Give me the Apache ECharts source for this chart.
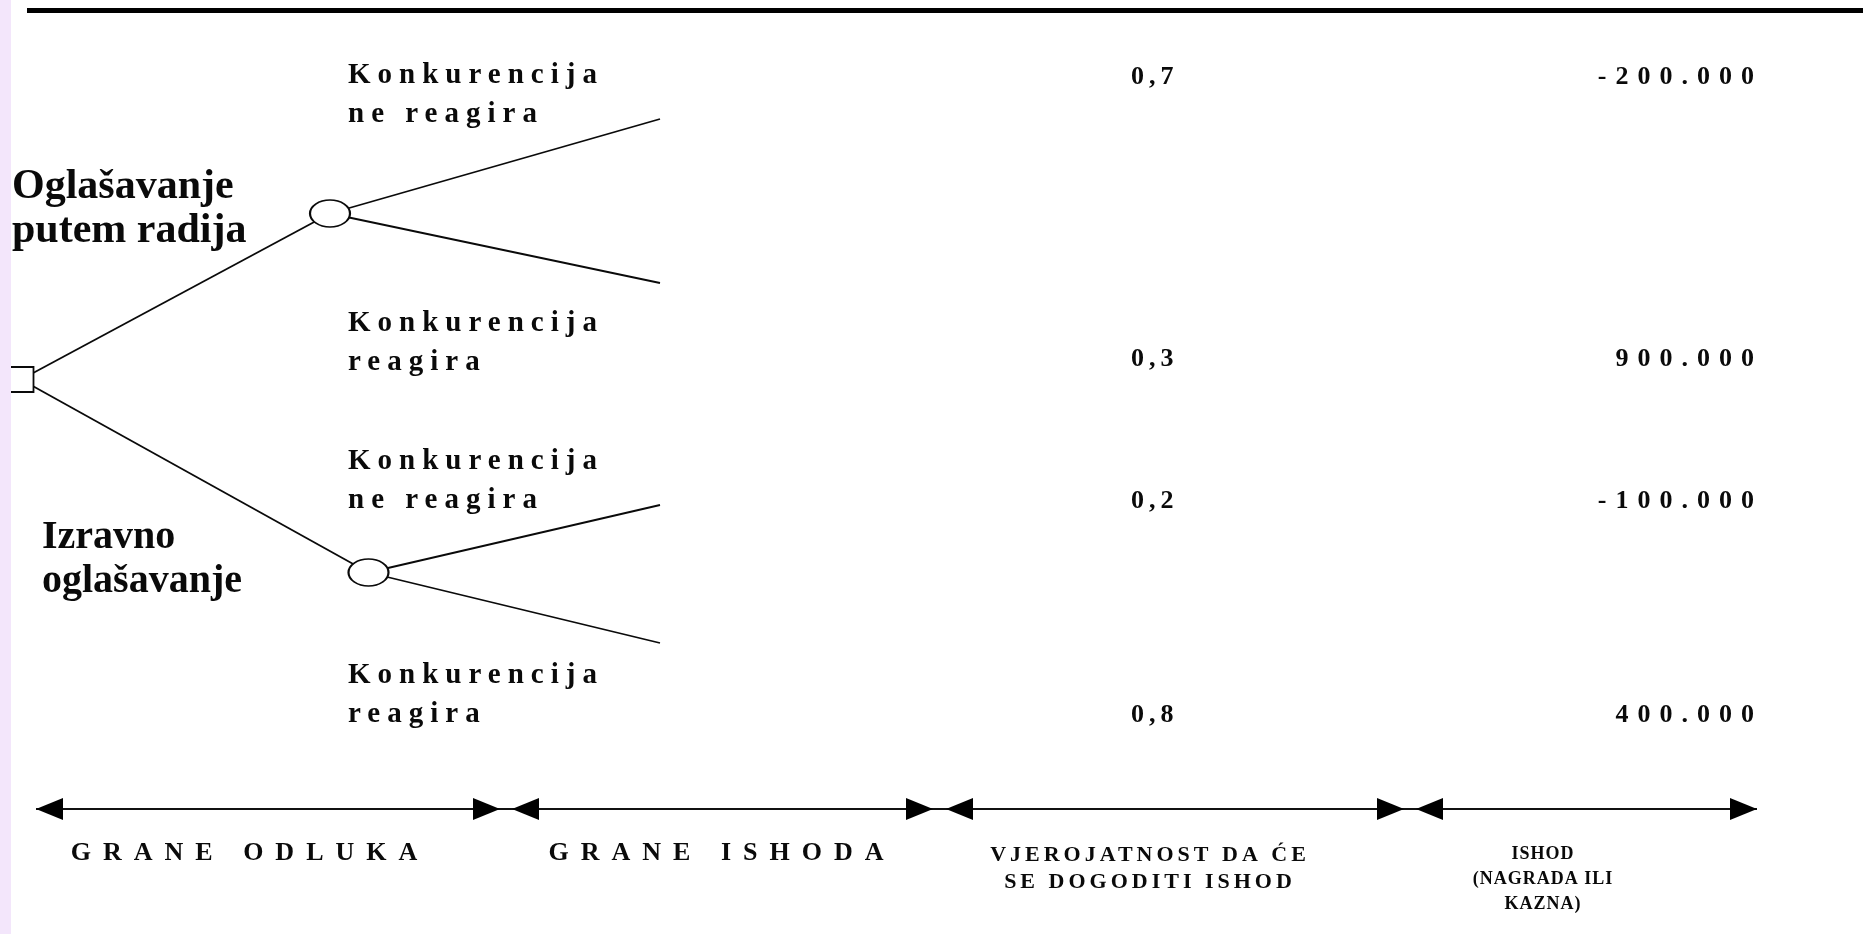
<!DOCTYPE html>
<html>
<head>
<meta charset="utf-8">
<script src="https://cdn.jsdelivr.net/npm/echarts@6/dist/echarts.min.js"></script>
<style>
  html, body { margin: 0; padding: 0; background: #ffffff; overflow: hidden; }
  #chart { width: 1863px; height: 934px; }
</style>
</head>
<body>
<div id="chart"></div>
<script>
// ---------------- DATA ----------------
const decisionLabels = ['Oglašavanje\nputem radija', 'Izravno\noglašavanje'];
const outcomeLabels = [
  'Konkurencija\nne reagira',
  'Konkurencija\nreagira',
  'Konkurencija\nne reagira',
  'Konkurencija\nreagira'
];
const outcomeParent = [0, 0, 1, 1];
const probabilities = [0.7, 0.3, 0.2, 0.8];
const payoffs = [-200000, 900000, -100000, 400000];
const stageLabels = [
  'GRANE ODLUKA',
  'GRANE ISHODA',
  'VJEROJATNOST DA ĆE\nSE DOGODITI ISHOD',
  'ISHOD\n(NAGRADA ILI\nKAZNA)'
];

// ---------------- LAYOUT (diagram frame, px units on hidden axes) ----------------
const FRAME_W = 1863, FRAME_H = 934;
const rootPos = [21, 379.5];
const chancePos = [[330, 213.5], [368.5, 572.5]];
const leafPos = [[660, 119], [660, 283], [660, 505], [660, 643]];
const decisionLabelPos = [[12, 209], [42, 560]];
const decisionFontSize = [42, 40];
const outcomeLabelPos = [[348, 95], [348, 343], [348, 481], [348, 695]];
const probabilityX = 1131;
const payoffX = 1763;
const valueRowY = [77.5, 359.5, 501.5, 715];
const stageSpans = [[36, 500], [512, 933], [946, 1404], [1416, 1757]];
const stageLabelX = [250, 722, 1150, 1543];
const stageLabelY = [840, 840, 842, 842];
const stageAxisY = 809;
const topRuleY = 10;
const topRuleX = [27, 1863];
const arrowLen = 27, arrowWidth = 22;

// ---------------- letter spacing support (font marker "lspN", integer px) ----------------
(function () {
  const P = CanvasRenderingContext2D.prototype;
  if (!('letterSpacing' in P)) return;
  const re = /lsp(\d+)/;
  ['fillText', 'strokeText', 'measureText'].forEach(function (name) {
    const orig = P[name];
    P[name] = function () {
      const m = re.exec(this.font);
      if (!m) return orig.apply(this, arguments);
      const prev = this.letterSpacing;
      this.letterSpacing = m[1] + 'px';
      try { return orig.apply(this, arguments); }
      finally { this.letterSpacing = prev; }
    };
  });
})();

// ---------------- helpers ----------------
function fmtProb(v) { return v.toFixed(1).replace('.', ','); }
function fmtPayoff(v) {
  const s = Math.abs(v).toString().replace(/\B(?=(\d{3})+(?!\d))/g, '.');
  return (v < 0 ? '-' : '') + s;
}
const INK = '#0a0a0a';
const SERIF = "'Liberation Serif', 'Times New Roman', serif";
const ellipsePath = 'path://M0,50 A50,50 0 1 1 100,50 A50,50 0 1 1 0,50 Z';

// tree nodes / links
const nodes = [{ name: 'root', value: rootPos, symbol: 'rect', symbolSize: [25, 25] }];
chancePos.forEach(function (p, i) {
  nodes.push({ name: 'chance' + i, value: p, symbol: ellipsePath, symbolSize: [40, 27] });
});
leafPos.forEach(function (p, i) {
  nodes.push({ name: 'leaf' + i, value: p, symbol: 'none', symbolSize: 0 });
});
const links = [];
chancePos.forEach(function (p, i) { links.push({ source: 'root', target: 'chance' + i }); });
outcomeParent.forEach(function (par, i) { links.push({ source: 'chance' + par, target: 'leaf' + i }); });

function textPoint(pos, text) { return { value: pos, labelText: text }; }

const arrowData = [];
stageSpans.forEach(function (s) {
  arrowData.push({ value: [s[0] + arrowLen / 2, stageAxisY], symbolRotate: 90 });
  arrowData.push({ value: [s[1] - arrowLen / 2, stageAxisY], symbolRotate: -90 });
});

const labelBase = { show: true, position: 'inside', color: INK, opacity: 1, fontFamily: SERIF, fontWeight: 'bold' };
const hidden = { color: 'transparent', opacity: 1 };

const option = {
  animation: false,
  backgroundColor: '#ffffff',
  grid: { left: 0, right: 0, top: 0, bottom: 0 },
  xAxis: { type: 'value', min: 0, max: FRAME_W, show: false },
  yAxis: { type: 'value', min: 0, max: FRAME_H, inverse: true, show: false },
  graphic: [{
    type: 'rect', left: 0, top: 0, z: 100,
    shape: { width: 11, height: FRAME_H },
    style: { fill: '#f3e6fb' }
  }],
  series: [
    {
      name: 'rules', type: 'lines', coordinateSystem: 'cartesian2d', silent: true,
      z: 1,
      data: [
        { coords: [[topRuleX[0], topRuleY], [topRuleX[1], topRuleY]], lineStyle: { width: 5, color: '#000' } },
        { coords: [[stageSpans[0][0], stageAxisY], [stageSpans[stageSpans.length - 1][1], stageAxisY]], lineStyle: { width: 2, color: '#111' } }
      ],
      lineStyle: { opacity: 1 }
    },
    {
      name: 'arrows', type: 'scatter', silent: true, z: 3,
      symbol: 'triangle', symbolSize: [arrowWidth, arrowLen],
      itemStyle: { color: '#000', opacity: 1 },
      data: arrowData
    },
    {
      name: 'tree', type: 'graph', layout: 'none', coordinateSystem: 'cartesian2d',
      silent: true, z: 2,
      data: nodes, links: links,
      itemStyle: { color: '#ffffff', borderColor: INK, borderWidth: 1.8, opacity: 1 },
      lineStyle: { color: INK, width: 1.8, opacity: 1, curveness: 0 },
      label: { show: false },
      emphasis: { disabled: true }
    },
    {
      name: 'decisions', type: 'scatter', silent: true, z: 5, symbolSize: 1, itemStyle: hidden,
      data: decisionLabels.map(function (t, i) {
        return { value: decisionLabelPos[i], labelText: t, label: { fontSize: decisionFontSize[i] } };
      }),
      label: Object.assign({}, labelBase, {
        align: 'left', verticalAlign: 'middle', lineHeight: 44,
        formatter: function (p) { return p.data.labelText; }
      })
    },
    {
      name: 'outcomes', type: 'scatter', silent: true, z: 5, symbolSize: 1, itemStyle: hidden,
      data: outcomeLabels.map(function (t, i) { return textPoint(outcomeLabelPos[i], t); }),
      label: Object.assign({}, labelBase, {
        align: 'left', verticalAlign: 'middle', fontSize: 29, lineHeight: 39,
        fontFamily: "'Liberation Serif', lsp7",
        formatter: function (p) { return p.data.labelText; }
      })
    },
    {
      name: 'probabilities', type: 'scatter', silent: true, z: 5, symbolSize: 1, itemStyle: hidden,
      data: probabilities.map(function (v, i) { return textPoint([probabilityX, valueRowY[i]], fmtProb(v)); }),
      label: Object.assign({}, labelBase, {
        align: 'left', verticalAlign: 'middle', fontSize: 26,
        fontFamily: "'Liberation Serif', lsp5",
        formatter: function (p) { return p.data.labelText; }
      })
    },
    {
      name: 'payoffs', type: 'scatter', silent: true, z: 5, symbolSize: 1, itemStyle: hidden,
      data: payoffs.map(function (v, i) { return textPoint([payoffX, valueRowY[i]], fmtPayoff(v)); }),
      label: Object.assign({}, labelBase, {
        align: 'right', verticalAlign: 'middle', fontSize: 26,
        fontFamily: "'Liberation Serif', lsp9",
        formatter: function (p) { return p.data.labelText; }
      })
    },
    {
      name: 'stages', type: 'scatter', silent: true, z: 5, symbolSize: 1, itemStyle: hidden,
      data: stageLabels.map(function (t, i) {
        let lbl;
        if (i < 2) lbl = { fontSize: 26, lineHeight: 26, fontFamily: "'Liberation Serif', lsp12" };
        else if (i === 2) lbl = { fontSize: 22, lineHeight: 27, fontFamily: "'Liberation Serif', lsp4" };
        else lbl = { fontSize: 18, lineHeight: 25, fontFamily: "'Liberation Serif', lsp1" };
        return { value: [stageLabelX[i], stageLabelY[i]], labelText: t, label: lbl };
      }),
      label: Object.assign({}, labelBase, {
        align: 'center', verticalAlign: 'top',
        formatter: function (p) { return p.data.labelText; }
      })
    }
  ]
};

const chart = echarts.init(document.getElementById('chart'), null, { renderer: 'canvas' });
chart.setOption(option);
</script>
</body>
</html>
